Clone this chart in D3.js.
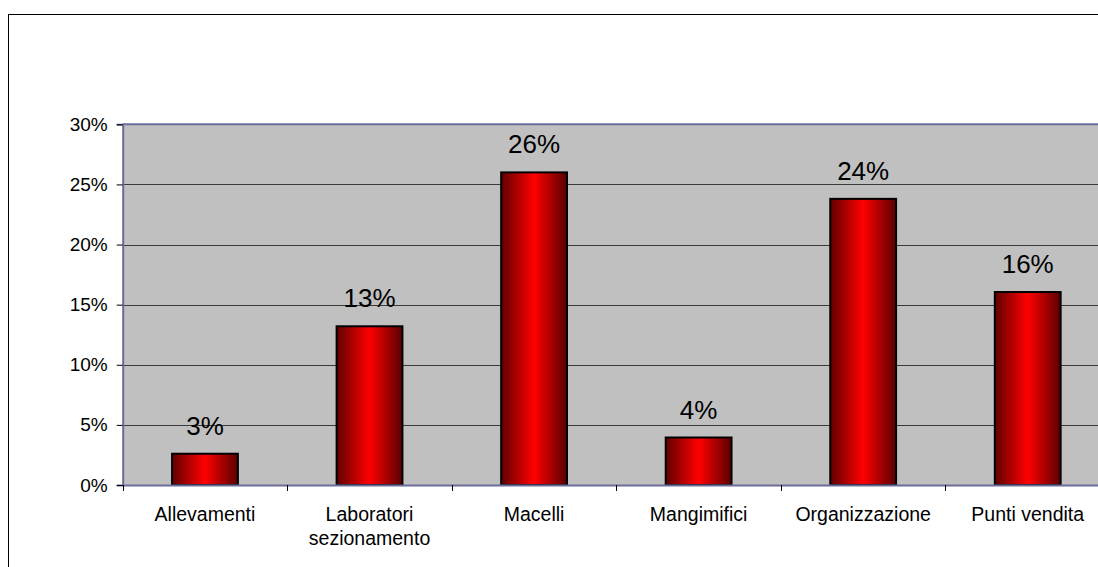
<!DOCTYPE html>
<html>
<head>
<meta charset="utf-8">
<script src="https://cdn.jsdelivr.net/npm/d3@7"></script>
<style>
html,body{margin:0;padding:0;background:#fff;}
svg{display:block;}
text{font-family:"Liberation Sans",Arial,sans-serif;fill:#000;}
</style>
</head>
<body>
<script>
const categories = ["Allevamenti", "Laboratori sezionamento", "Macelli", "Mangimifici", "Organizzazione", "Punti vendita"];
const values = [2.6, 13.2, 26.0, 3.95, 23.8, 16.05];
const valueLabels = ["3%", "13%", "26%", "4%", "24%", "16%"];
const yTicks = [0, 5, 10, 15, 20, 25, 30];
const yTickLabels = ["0%", "5%", "10%", "15%", "20%", "25%", "30%"];

const W = 1098, H = 567;
const plot = {left: 122.7, right: 1110, top: 124.3, bottom: 485};

const svg = d3.select("body").append("svg").attr("width", W).attr("height", H);

const defs = svg.append("defs");
const grad = defs.append("linearGradient").attr("id", "barGrad")
  .attr("x1", "0%").attr("x2", "100%").attr("y1", "0%").attr("y2", "0%");
grad.append("stop").attr("offset", "0%").attr("stop-color", "#600000");
grad.append("stop").attr("offset", "50%").attr("stop-color", "#ff0000");
grad.append("stop").attr("offset", "100%").attr("stop-color", "#5a0000");

// outer chart border
svg.append("rect").attr("x", 8.5).attr("y", 14.5).attr("width", 1200).attr("height", 700)
  .attr("fill", "#fff").attr("stroke", "#000").attr("stroke-width", 1);

const x = d3.scaleBand().domain(categories).range([plot.left, plot.right]).paddingInner(0).paddingOuter(0);
const y = d3.scaleLinear().domain([0, 30]).range([plot.bottom, plot.top]);

// plot background
svg.append("rect").attr("x", plot.left).attr("y", plot.top)
  .attr("width", plot.right - plot.left).attr("height", plot.bottom - plot.top)
  .attr("fill", "#c0c0c0");

// gridlines
svg.append("g").selectAll("line").data(yTicks.filter(d => d > 0 && d < 30)).join("line")
  .attr("x1", plot.left).attr("x2", plot.right)
  .attr("y1", d => Math.round(y(d)) + 0.5).attr("y2", d => Math.round(y(d)) + 0.5)
  .attr("stroke", "#3a3a3a").attr("stroke-width", 1);

// plot border top
svg.append("line").attr("x1", plot.left).attr("x2", plot.right)
  .attr("y1", plot.top).attr("y2", plot.top)
  .attr("stroke", "#6c6c9c").attr("stroke-width", 2);

// bars
const bw = x.bandwidth() * 0.4;
svg.append("g").selectAll("rect").data(categories).join("rect")
  .attr("x", d => x(d) + (x.bandwidth() - bw) / 2)
  .attr("y", (d, i) => y(values[i]))
  .attr("width", bw)
  .attr("height", (d, i) => y(0) - y(values[i]))
  .attr("fill", "url(#barGrad)")
  .attr("stroke", "#000").attr("stroke-width", 2);

// value labels
svg.append("g").selectAll("text").data(categories).join("text")
  .attr("x", d => x(d) + x.bandwidth() / 2)
  .attr("y", (d, i) => y(values[i]) - 19)
  .attr("text-anchor", "middle")
  .attr("font-size", 26)
  .text((d, i) => valueLabels[i]);

// y axis
const yAxis = d3.axisLeft(y).tickValues(yTicks).tickSize(6).tickPadding(9)
  .tickFormat((d, i) => yTickLabels[i]);
const gy = svg.append("g").attr("transform", `translate(${plot.left},0)`).call(yAxis);
gy.select(".domain").attr("stroke", "#6c6c9c").attr("stroke-width", 2);
gy.selectAll(".tick line").attr("stroke", "#000");
gy.selectAll(".tick text").attr("font-size", 19).attr("font-family", "Liberation Sans, Arial, sans-serif").attr("fill", "#000");

// x axis
const xAxis = d3.axisBottom(x).tickSize(0).tickPadding(0);
const gx = svg.append("g").attr("transform", `translate(0,${plot.bottom})`).call(xAxis);
gx.select(".domain").attr("stroke", "#6c6c9c").attr("stroke-width", 2);
gx.selectAll(".tick text").remove();

// category boundary ticks
svg.append("g").selectAll("line").data(d3.range(categories.length + 1)).join("line")
  .attr("x1", i => Math.round(plot.left + i * x.bandwidth()) + 0.5)
  .attr("x2", i => Math.round(plot.left + i * x.bandwidth()) + 0.5)
  .attr("y1", plot.bottom).attr("y2", plot.bottom + 6)
  .attr("stroke", "#000").attr("stroke-width", 1);

// category labels with wrapping
const catG = svg.append("g");
categories.forEach(c => {
  const t = catG.append("text")
    .attr("x", x(c) + x.bandwidth() / 2)
    .attr("y", 521)
    .attr("text-anchor", "middle")
    .attr("font-size", 19.5);
  const words = c.split(" ");
  let line = [];
  let tspan = t.append("tspan").attr("x", x(c) + x.bandwidth() / 2).attr("dy", 0);
  let lineNo = 0;
  words.forEach(w => {
    line.push(w);
    tspan.text(line.join(" "));
    if (tspan.node().getComputedTextLength() > x.bandwidth() - 10 && line.length > 1) {
      line.pop();
      tspan.text(line.join(" "));
      line = [w];
      lineNo++;
      tspan = t.append("tspan").attr("x", x(c) + x.bandwidth() / 2).attr("dy", 24).text(w);
    }
  });
});
</script>
</body>
</html>
